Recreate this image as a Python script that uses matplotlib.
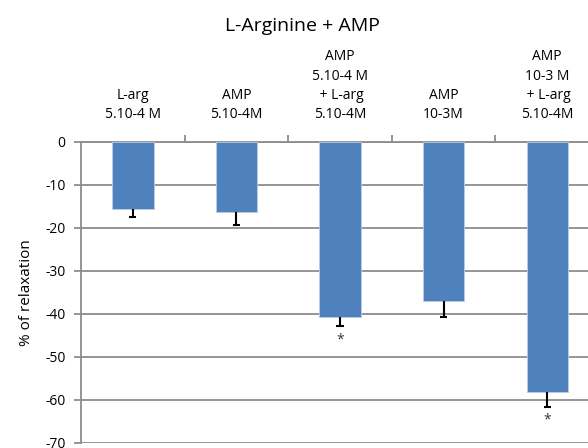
import numpy as np
import matplotlib.pyplot as plt

# values
categories = ["L-arg\n5.10-4 M",
              "AMP\n5.10-4M",
              "AMP\n5.10-4 M\n + L-arg\n5.10-4M",
              "AMP\n10-3M",
              "AMP\n10-3 M\n + L-arg\n5.10-4M"]
relaxation = [-15.5, -16.4, -40.6, -37.0, -58.1]
errors = [2.0, 2.8, 2.3, 3.7, 3.5]
significant = [False, False, True, False, True]
yticks = [0, -10, -20, -30, -40, -50, -60, -70]

plt.rcParams['font.family'] = ['Open Sans', 'DejaVu Sans']

fig = plt.figure(figsize=(5.88, 4.48), dpi=100)
ax = fig.add_axes([0.1378, 0.0112, 0.881, 0.672])

x = np.arange(len(categories))
bar_color = '#4F81BD'
grid_color = '#8C8C8C'

ax.bar(x, relaxation, width=0.4, color=bar_color, edgecolor='#B9CDE5',
       linewidth=0.6, zorder=3)

# error bars only go downward
lower = np.array(relaxation) - np.array(errors)
ax.vlines(x, relaxation, lower, color='black', linewidth=1.5, zorder=4)
ax.hlines(lower, x - 0.035, x + 0.035, color='black', linewidth=1.5, zorder=4)

for xi, lo, sig in zip(x, lower, significant):
    if sig:
        ax.text(xi, lo - 1.3, '*', ha='center', va='top', fontsize=10,
                color='#333333')

ax.set_xlim(-0.5, len(categories) - 0.5)
ax.set_ylim(-70, 0)
ax.set_yticks(yticks)
ax.set_yticklabels([str(t) for t in yticks], fontsize=10)
ax.yaxis.grid(True, color=grid_color, linewidth=1.3, zorder=0)
ax.tick_params(axis='y', length=5, width=1.3, color=grid_color, pad=6)

# category labels at the top, tick marks between categories
ax.xaxis.tick_top()
ax.set_xticks(x)
ax.set_xticklabels(categories, fontsize=10, linespacing=1.4)
ax.set_xticks(np.arange(len(categories)) + 0.5, minor=True)
ax.tick_params(axis='x', which='major', length=0, pad=14)
ax.tick_params(axis='x', which='minor', length=5, width=1.3, color=grid_color,
               direction='out', top=True)

for side in ['right', 'bottom']:
    ax.spines[side].set_visible(False)
ax.spines['left'].set_color(grid_color)
ax.spines['left'].set_linewidth(1.3)
ax.spines['top'].set_color(grid_color)
ax.spines['top'].set_linewidth(1.3)

ax.set_ylabel('% of relaxation', fontsize=11, labelpad=8)
fig.text(0.515, 0.942, 'L-Arginine + AMP', ha='center', va='center', fontsize=14)

fig.savefig('out.png', dpi=100)
